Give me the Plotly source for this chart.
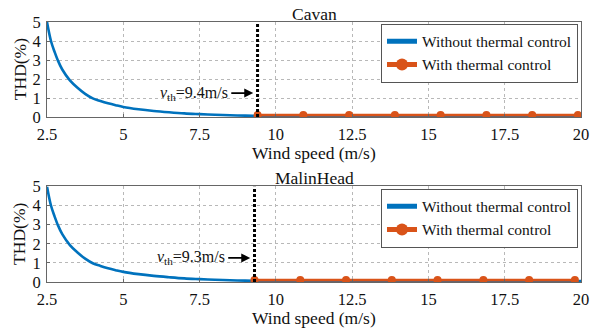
import plotly.graph_objects as go

# ---- data ----
wind_speed = [2.5, 2.63, 2.75, 2.85, 3.0, 3.25, 3.5, 3.75, 4.0, 4.25, 4.5, 4.75, 5.0, 5.5, 6.0,
              6.5, 7.0, 7.5, 8.0, 8.5, 9.0, 9.5, 10, 12, 14, 16, 18, 20]
thd_without_cavan = [5.0, 4.0, 3.42, 3.0, 2.5, 1.93, 1.54, 1.22, 0.98, 0.84, 0.72, 0.62, 0.53,
                     0.41, 0.32, 0.25, 0.19, 0.15, 0.116, 0.09, 0.07, 0.06, 0.055, 0.05, 0.05,
                     0.05, 0.05, 0.05]
thd_without_malin = [5.0, 4.0, 3.42, 3.0, 2.5, 1.93, 1.54, 1.22, 0.98, 0.84, 0.72, 0.62, 0.53,
                     0.41, 0.32, 0.25, 0.19, 0.15, 0.116, 0.09, 0.07, 0.06, 0.055, 0.05, 0.05,
                     0.05, 0.05, 0.05]

with_x_cavan = [9.4, 10.9, 12.4, 13.9, 15.4, 16.9, 18.4, 19.9]
with_y_cavan = [0.1, 0.1, 0.1, 0.1, 0.1, 0.1, 0.1, 0.1]
with_x_malin = [9.3, 10.8, 12.3, 13.8, 15.3, 16.8, 18.3, 19.8]
with_y_malin = [0.1, 0.1, 0.1, 0.1, 0.1, 0.1, 0.1, 0.1]

vth = [9.4, 9.3]
site_titles = ["Cavan", "MalinHead"]
x_ticks = [2.5, 5, 7.5, 10, 12.5, 15, 17.5, 20]
x_tick_labels = ["2.5", "5", "7.5", "10", "12.5", "15", "17.5", "20"]
y_ticks = [0, 1, 2, 3, 4, 5]

BLUE = "#0072BD"
ORANGE = "#D95319"
FONT = "Liberation Serif"

# the page places the figure 8px in from the top-left corner of the window
OFF = 8
W, H = 606 - OFF, 332 - OFF
ML, MR, MT, MB = 47.3 - OFF, 606 - 581.0, 22.3 - OFF, 332 - 282.3
PW, PH = W - ML - MR, H - MT - MB


def px_x(px):  # reference window pixel -> paper x
    return (px - OFF - ML) / PW


def px_y(py):  # reference window pixel -> paper y
    return 1 - (py - OFF - MT) / PH


y_doms = [[px_y(117.3), px_y(22.3)], [px_y(282.3), px_y(186.7)]]

fig = go.Figure()

series = [
    (thd_without_cavan, with_x_cavan, with_y_cavan, "legend"),
    (thd_without_malin, with_x_malin, with_y_malin, "legend2"),
]
for i, (thd, wx, wy, leg) in enumerate(series):
    xa = "x" if i == 0 else "x2"
    ya = "y" if i == 0 else "y2"
    fig.add_trace(go.Scatter(x=wind_speed, y=thd, mode="lines", name="Without thermal control",
                             line=dict(color=BLUE, width=2.6, shape="spline", smoothing=1.0),
                             xaxis=xa, yaxis=ya, legend=leg))
    fig.add_trace(go.Scatter(x=wx, y=wy, mode="lines+markers", name="With thermal control",
                             line=dict(color=ORANGE, width=2.6),
                             marker=dict(color=ORANGE, size=8, symbol="circle"),
                             xaxis=xa, yaxis=ya, legend=leg))

axis_common = dict(showgrid=True, gridcolor="#b8b8b8", griddash="dot", gridwidth=1,
                   showline=True, linecolor="#666666", linewidth=1, mirror=True,
                   ticks="inside", ticklen=3, tickcolor="#666666", automargin=False,
                   tickfont=dict(family=FONT, size=16.5, color="#111111"), zeroline=False)

for i in range(2):
    sfx = "" if i == 0 else "2"
    fig.update_layout(**{
        "xaxis" + sfx: dict(axis_common, domain=[0, 1], range=[2.5, 20], tickvals=x_ticks,
                            ticktext=x_tick_labels, anchor="y" + sfx, ticklabelstandoff=2),
        "yaxis" + sfx: dict(axis_common, domain=y_doms[i], range=[0, 5], tickvals=y_ticks,
                            anchor="x" + sfx, ticklabelstandoff=2),
    })

annotations = []
shapes = []
for i in range(2):
    sfx = "" if i == 0 else "2"
    top_px = 22.3 if i == 0 else 186.7
    bot_px = 117.3 if i == 0 else 282.3
    annotations.append(dict(text=site_titles[i], xref="paper", yref="paper",
                            x=0.5, y=px_y(top_px - 8),
                            xanchor="center", yanchor="middle", showarrow=False,
                            font=dict(family=FONT, size=17.5, color="#111111")))
    annotations.append(dict(text="Wind speed (m/s)", xref="paper", yref="paper",
                            x=0.5, y=px_y(bot_px + 36),
                            xanchor="center", yanchor="middle", showarrow=False,
                            font=dict(family=FONT, size=17.5, color="#111111")))
    annotations.append(dict(text="THD(%)", xref="paper", yref="paper",
                            x=px_x(20), y=px_y((top_px + bot_px) / 2), textangle=-90,
                            xanchor="center", yanchor="middle", showarrow=False,
                            font=dict(family=FONT, size=17.5, color="#111111")))
    annotations.append(dict(text="<i>v</i><sub>th</sub>=%.1fm/s" % vth[i],
                            xref="x" + sfx, yref="y" + sfx, x=vth[i] - 0.14, y=1.26,
                            ax=-22, ay=0, axref="pixel", ayref="pixel", showarrow=True,
                            xanchor="right", yanchor="middle", borderpad=2,
                            arrowhead=2, arrowsize=1, arrowwidth=1.8, arrowcolor="black",
                            font=dict(family=FONT, size=16, color="#111111")))
    shapes.append(dict(type="line", xref="x" + sfx, yref="y" + sfx, x0=vth[i], x1=vth[i],
                       y0=0, y1=5, line=dict(color="black", width=3, dash="3px,2px")))

leg_common = dict(bgcolor="white", bordercolor="#555555", borderwidth=1,
                  font=dict(family=FONT, size=15.5, color="#111111"),
                  xanchor="right", yanchor="top", x=px_x(578), tracegroupgap=0,
                  itemwidth=30, itemsizing="constant")
fig.update_layout(
    width=W, height=H, margin=dict(l=ML, r=MR, t=MT, b=MB, autoexpand=False),
    paper_bgcolor="white", plot_bgcolor="white",
    font=dict(family=FONT, size=16, color="#111111"),
    annotations=annotations, shapes=shapes,
    legend=dict(leg_common, y=px_y(24)),
    legend2=dict(leg_common, y=px_y(189)),
)

fig.write_html("out.html")
